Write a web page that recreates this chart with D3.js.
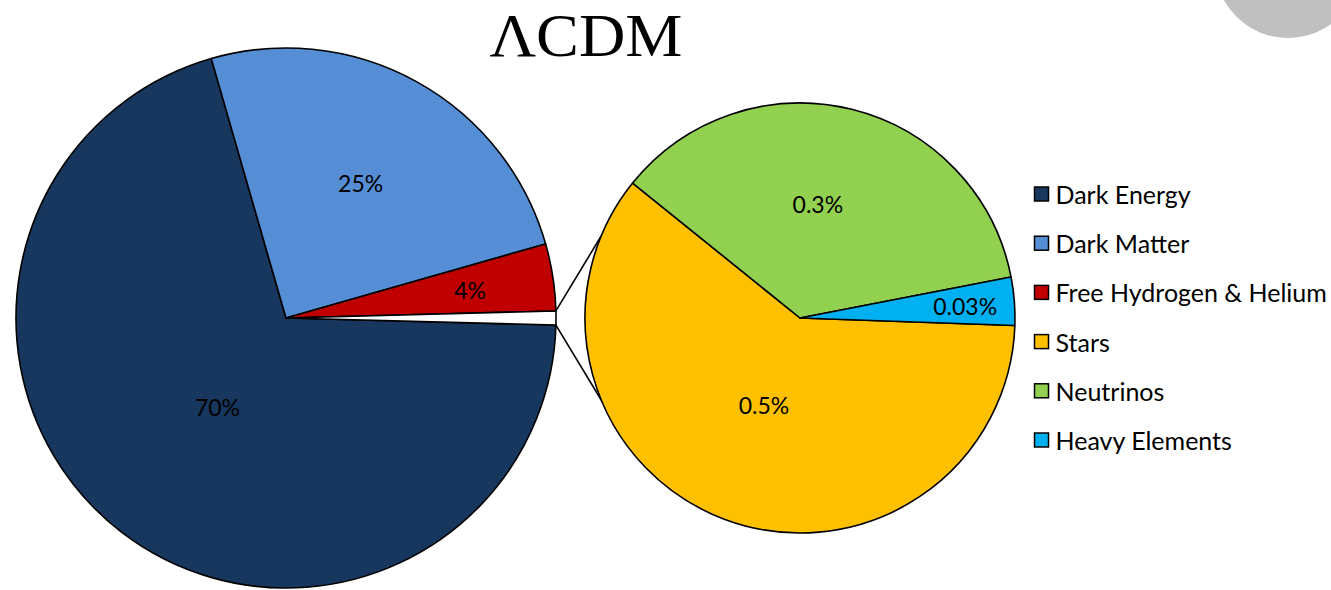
<!DOCTYPE html>
<html>
<head>
<meta charset="utf-8">
<script src="https://cdn.jsdelivr.net/npm/d3@7"></script>
<style>
  html, body { margin: 0; padding: 0; background: #fff; }
  svg { display: block; }
</style>
</head>
<body>
<svg id="chart" width="1331" height="590"></svg>
<script>
// Composition of the universe (ΛCDM), shown as a pie with a breakout pie
const mainCategories = ["Dark Energy", "Dark Matter", "Free Hydrogen & Helium"];
const mainValues = [70, 25, 4];
const mainLabels = ["70%", "25%", "4%"];

const subCategories = ["Stars", "Neutrinos", "Heavy Elements"];
const subValues = [0.5, 0.3, 0.03];
const subLabels = ["0.5%", "0.3%", "0.03%"];

const legendOrder = ["Dark Energy", "Dark Matter", "Free Hydrogen & Helium", "Stars", "Neutrinos", "Heavy Elements"];

const titleText = "ΛCDM";

const colors = {
  "Dark Energy": "#17375e",
  "Dark Matter": "#558ed5",
  "Free Hydrogen & Helium": "#c00000",
  "Stars": "#ffc000",
  "Neutrinos": "#92d050",
  "Heavy Elements": "#00b0f0",
  "Other": "#ffffff"
};

const svg = d3.select("#chart");
const deg = Math.PI / 180;
const labelFont = "Lato, 'Open Sans', sans-serif";

// decorative grey disc in the top-right corner
svg.append("circle")
  .attr("cx", 1288).attr("cy", -35).attr("r", 73)
  .attr("fill", "#c0c0c0");

// title
svg.append("text")
  .attr("x", 586).attr("y", 56)
  .attr("text-anchor", "middle")
  .attr("font-family", "'Liberation Serif', 'DejaVu Serif', serif")
  .attr("font-size", 62)
  .attr("textLength", 193)
  .attr("lengthAdjust", "spacingAndGlyphs")
  .attr("fill", "#000")
  .text(titleText);

// ---- main pie ----
const subTotal = d3.sum(subValues);
const mainData = mainCategories.map((c, i) => ({ name: c, value: mainValues[i], label: mainLabels[i] }));
mainData.push({ name: "Other", value: subTotal, label: "" });

const mainTotal = d3.sum(mainData, d => d.value);
const otherSpan = subTotal / mainTotal * 2 * Math.PI;
// the "Other" wedge is centred on 3 o'clock
const mainStart = Math.PI / 2 + otherSpan / 2;

const main = { cx: 286, cy: 318, r: 270 };
const sub = { cx: 800, cy: 318, r: 215 };

const mainPie = d3.pie().sort(null).value(d => d.value)
  .startAngle(mainStart).endAngle(mainStart + 2 * Math.PI);
const mainArcs = mainPie(mainData);
const mainArc = d3.arc().innerRadius(0).outerRadius(main.r);

const gMain = svg.append("g").attr("transform", `translate(${main.cx},${main.cy})`);
gMain.selectAll("path")
  .data(mainArcs)
  .join("path")
  .attr("d", mainArc)
  .attr("fill", d => colors[d.data.name])
  .attr("stroke", "#000")
  .attr("stroke-width", 1.6)
  .attr("stroke-linejoin", "round");

// label placement: distance as a fraction of the radius, plus an angular nudge
const mainLabelPos = {
  "Dark Energy": { k: 0.415, da: 0 },
  "Dark Matter": { k: 0.57, da: 0 },
  "Free Hydrogen & Helium": { k: 0.69, da: 0 }
};
const labelTransform = (pos, r) => d => {
  const p = pos[d.data.name];
  const a = (d.startAngle + d.endAngle) / 2 + p.da * deg;
  const k = p.k * r;
  return `translate(${k * Math.sin(a)},${-k * Math.cos(a)})`;
};
gMain.selectAll("text")
  .data(mainArcs.filter(d => d.data.label))
  .join("text")
  .attr("transform", labelTransform(mainLabelPos, main.r))
  .attr("text-anchor", "middle")
  .attr("dominant-baseline", "central")
  .attr("font-family", labelFont)
  .attr("font-size", 23)
  .attr("fill", "#000")
  .text(d => d.data.label);

// ---- breakout pie ----
const subData = subCategories.map((c, i) => ({ name: c, value: subValues[i], label: subLabels[i] }));
const subStart = 92 * deg;
const subPie = d3.pie().sort(null).value(d => d.value)
  .startAngle(subStart).endAngle(subStart + 2 * Math.PI);
const subArcs = subPie(subData);
const subArc = d3.arc().innerRadius(0).outerRadius(sub.r);

// connector lines from the "Other" wedge to the breakout pie
const otherArc = mainArcs[mainArcs.length - 1];
const pt = (c, r, a) => [c.cx + r * Math.sin(a), c.cy - r * Math.cos(a)];
const connectors = [
  [pt(main, main.r, otherArc.startAngle), pt(sub, sub.r, 292.5 * deg)],
  [pt(main, main.r, otherArc.endAngle), pt(sub, sub.r, 247.5 * deg)]
];
svg.selectAll("line.connector")
  .data(connectors)
  .join("line")
  .attr("class", "connector")
  .attr("x1", d => d[0][0]).attr("y1", d => d[0][1])
  .attr("x2", d => d[1][0]).attr("y2", d => d[1][1])
  .attr("stroke", "#000")
  .attr("stroke-width", 1.6);

const gSub = svg.append("g").attr("transform", `translate(${sub.cx},${sub.cy})`);
gSub.selectAll("path")
  .data(subArcs)
  .join("path")
  .attr("d", subArc)
  .attr("fill", d => colors[d.data.name])
  .attr("stroke", "#000")
  .attr("stroke-width", 1.6)
  .attr("stroke-linejoin", "round");

const subLabelPos = {
  "Stars": { k: 0.44, da: 2 },
  "Neutrinos": { k: 0.535, da: -5 },
  "Heavy Elements": { k: 0.77, da: 0.5 }
};
gSub.selectAll("text")
  .data(subArcs)
  .join("text")
  .attr("transform", labelTransform(subLabelPos, sub.r))
  .attr("text-anchor", "middle")
  .attr("dominant-baseline", "central")
  .attr("font-family", labelFont)
  .attr("font-size", 23)
  .attr("fill", "#000")
  .text(d => d.data.label);

// ---- legend ----
const legendY = d3.scalePoint().domain(legendOrder).range([194, 440]);
const legend = svg.append("g");
const rows = legend.selectAll("g")
  .data(legendOrder)
  .join("g")
  .attr("transform", d => `translate(1034.5,${legendY(d)})`);
rows.append("rect")
  .attr("x", 0).attr("y", -7).attr("width", 14).attr("height", 14)
  .attr("fill", d => colors[d])
  .attr("stroke", "#000")
  .attr("stroke-width", 1.5);
rows.append("text")
  .attr("x", 21).attr("y", 0)
  .attr("dominant-baseline", "central")
  .attr("font-family", labelFont)
  .attr("font-size", 25)
  .attr("fill", "#000")
  .text(d => d);
</script>
</body>
</html>
